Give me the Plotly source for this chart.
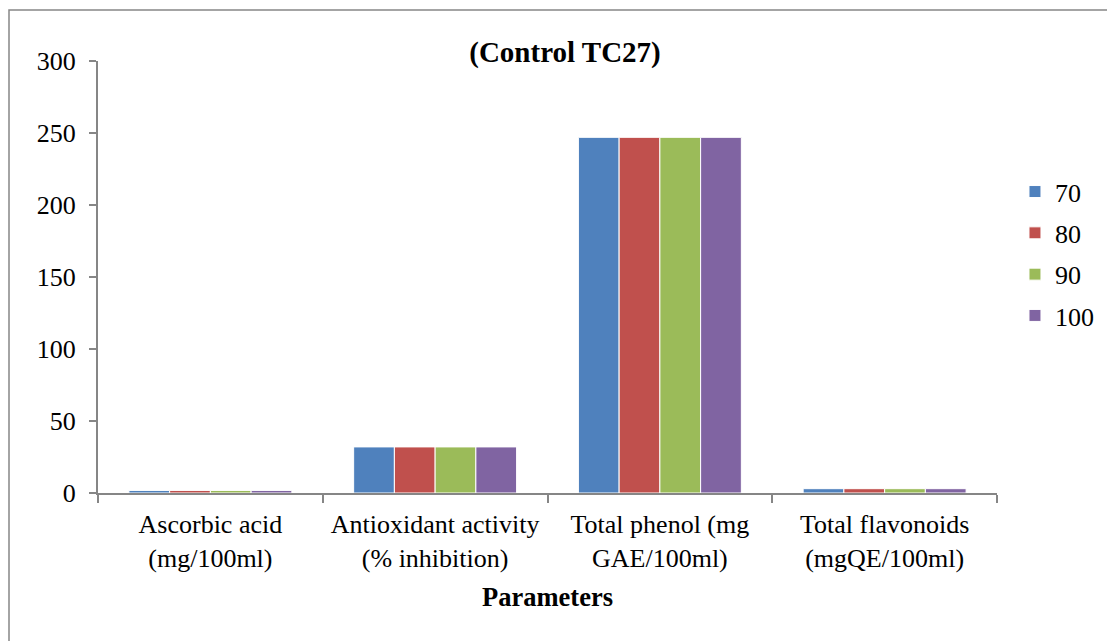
import plotly.graph_objects as go

categories = ["Ascorbic acid<br>(mg/100ml)", "Antioxidant activity<br>(% inhibition)",
              "Total phenol (mg<br>GAE/100ml)", "Total flavonoids<br>(mgQE/100ml)"]
series_names = ["70", "80", "90", "100"]
values_70 = [1.8, 32, 247, 3.0]
values_80 = [1.8, 32, 247, 3.0]
values_90 = [1.8, 32, 247, 3.0]
values_100 = [1.8, 32, 247, 3.0]
colors = ["#4F81BD", "#C0504D", "#9BBB59", "#8064A2"]
y_ticks = [0, 50, 100, 150, 200, 250, 300]

FONT = "Liberation Serif"
fig = go.Figure()
for name, vals, col in zip(series_names, [values_70, values_80, values_90, values_100], colors):
    fig.add_trace(go.Bar(name=name, x=categories, y=vals, legendgroup=name,
                         marker=dict(color=col, line=dict(color="white", width=1))))

fig.update_layout(
    width=1107, height=641,
    margin=dict(l=98, r=110, t=61, b=148, autoexpand=False),
    paper_bgcolor="white", plot_bgcolor="white",
    barmode="group", bargap=0.275, bargroupgap=0,
    font=dict(family=FONT, size=26, color="black"),
    title=dict(text="<b>(Control TC27)</b>", x=565/1107, xanchor="center",
               y=1-52/641, yanchor="middle", yref="container",
               font=dict(family=FONT, size=29, color="black")),
    legend=dict(x=1.02, xanchor="left", y=0.752, yanchor="top",
                font=dict(family=FONT, size=26), traceorder="grouped", tracegroupgap=4.5,
                bgcolor="rgba(0,0,0,0)"),
    showlegend=True,
)
fig.update_xaxes(
    type="category", showline=True, linecolor="#868686", linewidth=2,
    ticks="outside", tickson="boundaries", ticklen=8, tickcolor="#868686", tickwidth=2,
    tickfont=dict(family=FONT, size=26), ticklabelstandoff=7,
    title=dict(text="<b>Parameters</b>", font=dict(family=FONT, size=26.5), standoff=15),
    showgrid=False, zeroline=False,
)
fig.update_yaxes(
    range=[0, 300], tickvals=y_ticks, showline=True, linecolor="#868686", linewidth=2,
    ticks="outside", ticklen=7, tickcolor="#868686", tickwidth=2, ticklabelstandoff=8,
    tickfont=dict(family=FONT, size=26), showgrid=False, zeroline=False,
)
fig.add_shape(type="rect", xref="paper", yref="paper",
              x0=(9-98)/899, x1=1.25, y0=-0.6, y1=(493-10)/432,
              line=dict(color="#868686", width=1.5), fillcolor="rgba(0,0,0,0)", layer="below")
fig.write_html("out.html")
